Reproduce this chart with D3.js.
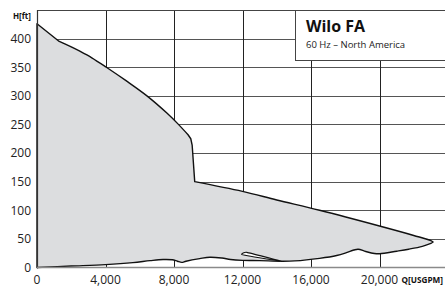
<!DOCTYPE html>
<html>
<head>
<meta charset="utf-8">
<script src="https://cdn.jsdelivr.net/npm/d3@7"></script>
<style>
  body { margin: 0; background: #fff; }
  svg { display: block; font-family: "Open Sans", "Noto Sans", sans-serif; }
</style>
</head>
<body>
<svg id="chart" width="445" height="289"></svg>
<script>
// ticks
var xTicks = [0, 4000, 8000, 12000, 16000, 20000];
var yTicks = [0, 50, 100, 150, 200, 250, 300, 350, 400];

// upper edge of the range, left to right (Q usgpm, H ft)
var upperQ = [0, 1300, 2000, 2500, 3200, 4050, 5200, 6420, 7600, 8230, 8820, 8980, 9060, 9210, 12000, 14000, 16500, 20000, 22000, 23000, 23130];
var upperH = [426, 395, 385.5, 378, 366.5, 350, 326.5, 300, 269.5, 251, 232, 225, 214, 150, 133, 118, 100, 72.5, 56, 47, 44.5];

// lower edge, left to right
var lowerQ = [0, 2000, 4000, 5600, 6600, 7360, 7900, 8200, 8450, 8700, 9500, 10100, 10800, 11300, 12000, 13000, 14300, 15050, 16500, 17500, 18070, 18500, 18750, 19200, 19700, 20010, 21000, 21700, 22500, 23000];
var lowerH = [0, 2.5, 5, 8.5, 12, 14, 13.5, 11, 9, 11, 15.5, 18, 16.5, 14, 12.5, 12, 11, 11.5, 16, 21, 26, 30.5, 32, 28, 24.5, 24, 28.5, 32, 37, 42];

// thin sliver near 12,000-14,300
var wedgeQ = [11950, 12250, 14250, 12300];
var wedgeH = [23, 26.5, 11, 20.5];

var svg = d3.select('#chart');

var x = d3.scaleLinear().domain([0, 24000]).range([37, 448]);
var y = d3.scaleLinear().domain([0, 450]).range([267.5, 10]);

// grid
svg.append('g')
    .selectAll('line')
    .data(yTicks.filter(d => d > 0))
    .join('line')
    .attr('x1', x(0)).attr('x2', 445)
    .attr('y1', d => Math.round(y(d)) + 0.5).attr('y2', d => Math.round(y(d)) + 0.5)
    .attr('stroke', '#555').attr('stroke-width', 1);

svg.append('g')
    .selectAll('line')
    .data(xTicks.filter(d => d > 0))
    .join('line')
    .attr('x1', d => Math.round(x(d)) + 0.5).attr('x2', d => Math.round(x(d)) + 0.5)
    .attr('y1', y(450)).attr('y2', y(0))
    .attr('stroke', '#222').attr('stroke-width', 1);

// operating range, built piece by piece so the kinks stay sharp
var upper = upperQ.map((q, i) => [q, upperH[i]]);
var lower = lowerQ.map((q, i) => [q, lowerH[i]]).reverse();

var straight = d3.line().x(d => x(d[0])).y(d => y(d[1]));
var smooth = d3.line().x(d => x(d[0])).y(d => y(d[1])).curve(d3.curveCatmullRom.alpha(0.5));

function cont(p) { return p.replace(/^M/, 'L'); }

var k1 = upperQ.indexOf(8820), k2 = upperQ.indexOf(9210);
var d = straight(upper.slice(0, 2))
    + cont(smooth(upper.slice(1, k1 + 1)))
    + cont(straight(upper.slice(k1, k2 + 1)))
    + cont(smooth(upper.slice(k2)))
    + cont(smooth(lower))
    + 'Z';

svg.append('path')
    .attr('d', d)
    .attr('fill', '#dcdddf')
    .attr('stroke', '#111')
    .attr('stroke-width', 1.4)
    .attr('stroke-linejoin', 'round');

svg.append('path')
    .attr('d', d3.line().x(d => x(d[0])).y(d => y(d[1])).curve(d3.curveCardinalClosed.tension(0.6))(wedgeQ.map((q, i) => [q, wedgeH[i]])))
    .attr('fill', '#fff')
    .attr('stroke', '#111')
    .attr('stroke-width', 1.2);

// frame
svg.append('line')
    .attr('x1', x(0)).attr('x2', 445)
    .attr('y1', y(450) + 0.5).attr('y2', y(450) + 0.5)
    .attr('stroke', '#444');
svg.append('line')
    .attr('x1', x(0) + 0.5).attr('x2', x(0) + 0.5)
    .attr('y1', y(450)).attr('y2', y(0) + 1)
    .attr('stroke', '#333').attr('stroke-width', 1.2);
svg.append('line')
    .attr('x1', x(0)).attr('x2', 445)
    .attr('y1', y(0)).attr('y2', y(0))
    .attr('stroke', '#8a8a8a').attr('stroke-width', 1.5);

// tick labels
svg.append('g')
    .selectAll('text')
    .data(xTicks)
    .join('text')
    .attr('x', d => x(d))
    .attr('y', 284)
    .attr('text-anchor', 'middle')
    .attr('font-size', 12)
    .attr('fill', '#222')
    .text(d => d3.format(',')(d));

svg.append('g')
    .selectAll('text')
    .data(yTicks)
    .join('text')
    .attr('x', 31)
    .attr('y', d => y(d) + 4.3)
    .attr('text-anchor', 'end')
    .attr('font-size', 12)
    .attr('fill', '#222')
    .text(d => d);

svg.append('text')
    .attr('x', 31).attr('y', 19)
    .attr('text-anchor', 'end')
    .attr('font-size', 8).attr('font-weight', 700)
    .attr('fill', '#111')
    .text('H[ft]');

svg.append('text')
    .attr('x', 443).attr('y', 283)
    .attr('text-anchor', 'end')
    .attr('font-size', 8.2).attr('font-weight', 700)
    .attr('fill', '#111')
    .text('Q[USGPM]');

// title box
svg.append('rect')
    .attr('x', 295.5).attr('y', 10.5)
    .attr('width', 160).attr('height', 50)
    .attr('fill', '#fff')
    .attr('stroke', '#444');

svg.append('text')
    .attr('x', 306).attr('y', 32)
    .attr('font-size', 16).attr('font-weight', 700)
    .attr('fill', '#111')
    .text('Wilo FA');

svg.append('text')
    .attr('x', 306).attr('y', 48)
    .attr('font-size', 9.5)
    .attr('fill', '#222')
    .text('60 Hz – North America');
</script>
</body>
</html>
